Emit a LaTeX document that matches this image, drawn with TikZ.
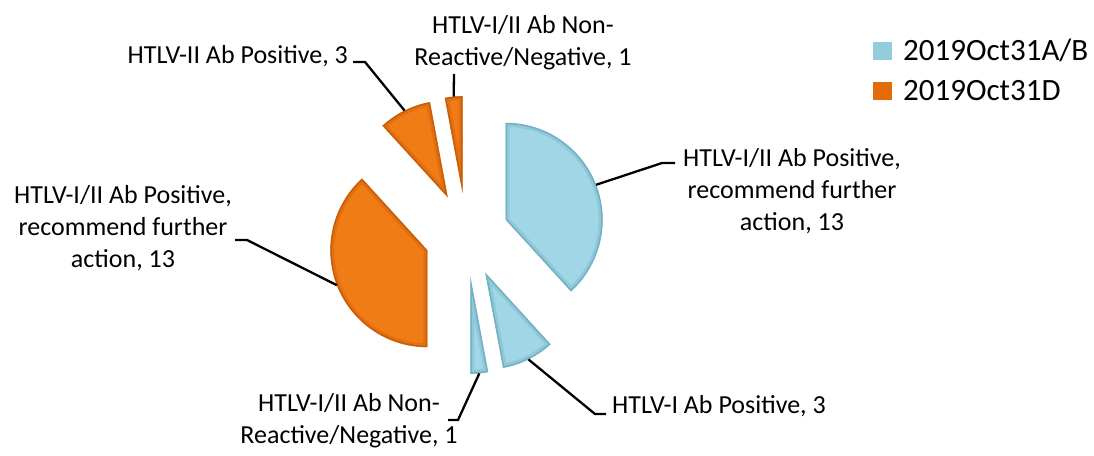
\documentclass[tikz,border=0pt]{standalone}
\usepackage{fontspec}
\setmainfont{Carlito}
\definecolor{bluec}{RGB}{160,214,230}
\definecolor{bluedk}{RGB}{95,160,182}
\definecolor{orc}{RGB}{240,124,22}
\definecolor{ordk}{RGB}{185,80,0}
\definecolor{legblue}{RGB}{147,205,221}
\definecolor{legor}{RGB}{227,108,9}
\begin{document}
\begin{tikzpicture}[x=1pt,y=1pt,
  lbl/.style={font=\fontsize{26}{32}\selectfont, inner sep=0pt, align=center, text=black},
  leg/.style={font=\fontsize{31}{36}\selectfont, inner sep=0pt, anchor=base west},
  leader/.style={draw=black, line width=2.3pt}]
\useasboundingbox (0,0) rectangle (1094,-455);
\coordinate (C) at (466.5,-235);
% slices
\foreach \a/\b/\c/\d in {90/-47.647/bluec/bluedk, -47.647/-79.412/bluec/bluedk, -79.412/-90/bluec/bluedk,
                          270/132.353/orc/ordk, 132.353/100.588/orc/ordk, 100.588/90/orc/ordk}{
  \pgfmathsetmacro\m{(\a+\b)/2}
  \begin{scope}[shift={(C)}, shift={(\m:42)}]
    \fill[\c] (0,0) -- (\a:97) arc[start angle=\a, end angle=\b, radius=97] -- cycle;
    \begin{scope}
      \clip (0,0) -- (\a:97) arc[start angle=\a, end angle=\b, radius=97] -- cycle;
      \draw[\d, line width=8, opacity=0.25, line join=round] (0,0) -- (\a:97) arc[start angle=\a, end angle=\b, radius=97] -- cycle;
      \draw[\d, line width=3, opacity=0.6, line join=round] (0,0) -- (\a:97) arc[start angle=\a, end angle=\b, radius=97] -- cycle;
    \end{scope}
  \end{scope}
}
% outer mid points of slices
\coordinate (sB13) at ([shift={(21.176:139)}]C);
\coordinate (sB3)  at ([shift={(-63.529:139)}]C);
\coordinate (sB1)  at ([shift={(-84.706:139)}]C);
\coordinate (sO13) at ([shift={(201.176:139)}]C);
\coordinate (sO3)  at ([shift={(116.471:139)}]C);
\coordinate (sO1)  at ([shift={(95.294:139)}]C);
% labels (base = baseline of last line)
\node[lbl, anchor=base] (lO1) at (523,-65) {HTLV-I/II Ab Non-\\Reactive/Negative, 1};
\node[lbl, anchor=base east] (lO3) at (348,-63) {HTLV-II Ab Positive, 3};
\node[lbl, anchor=base] (lB13) at (792,-230) {HTLV-I/II Ab Positive,\\recommend further\\action, 13};
\node[lbl, anchor=base] (lO13) at (123,-267) {HTLV-I/II Ab Positive,\\recommend further\\action, 13};
\node[lbl, anchor=base west] (lB3) at (612,-413) {HTLV-I Ab Positive, 3};
\node[lbl, anchor=base] (lB1) at (349,-443) {HTLV-I/II Ab Non-\\Reactive/Negative, 1};
% leader elbows
\coordinate (eO3a) at (365,-62);  \coordinate (eO3b) at (353,-62);
\coordinate (eO1a) at (454,-74);
\coordinate (eB13a) at (662,-163); \coordinate (eB13b) at (675,-163);
\coordinate (eO13a) at (247,-240); \coordinate (eO13b) at (235,-240);
\coordinate (eB3a) at (595,-414); \coordinate (eB3b) at (606,-414);
\coordinate (eB1a) at (458,-420); \coordinate (eB1b) at (448,-420);
\path[leader] (sO3) -- (eO3a) -- (eO3b);
\path[leader] (sO1) -- (eO1a);
\path[leader] (sB13) -- (eB13a) -- (eB13b);
\path[leader] (sO13) -- (eO13a) -- (eO13b);
\path[leader] (sB3) -- (eB3a) -- (eB3b);
\path[leader] (sB1) -- (eB1a) -- (eB1b);
% legend
\fill[legblue] (873,-42) rectangle (892,-60);
\fill[legor] (873,-82) rectangle (892,-100);
\node[leg] (legA) at (903,-60) {2019Oct31A/B};
\node[leg] (legD) at (903,-100) {2019Oct31D};
\end{tikzpicture}
\end{document}
